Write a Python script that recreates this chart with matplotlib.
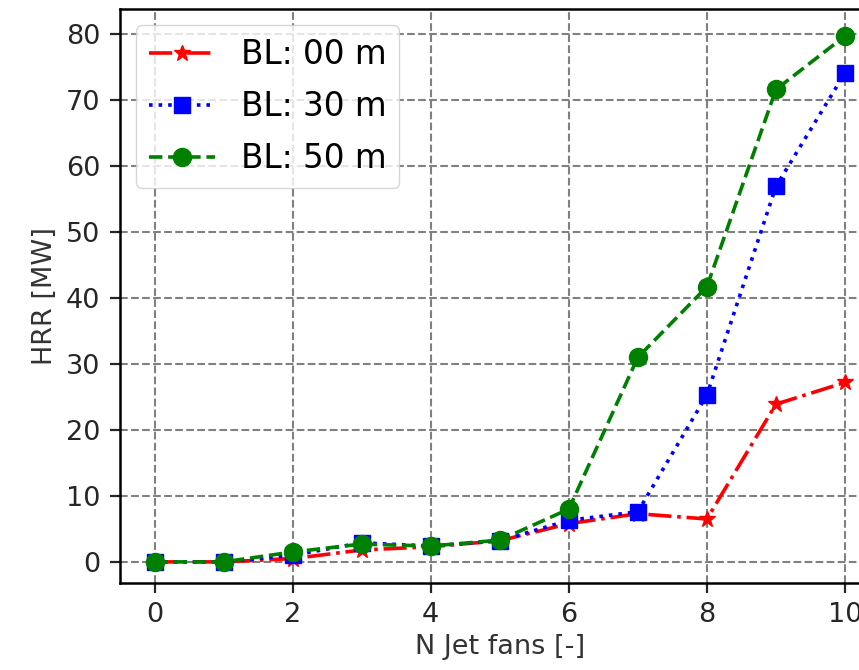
import matplotlib
matplotlib.use('Agg')
import matplotlib.pyplot as plt

n_fans = [0, 1, 2, 3, 4, 5, 6, 7, 8, 9, 10]
hrr_bl00 = [0.0, 0.0, 0.5, 1.8, 2.3, 3.2, 5.8, 7.3, 6.5, 23.9, 27.2]
hrr_bl30 = [0.0, 0.0, 1.0, 2.9, 2.4, 3.2, 6.3, 7.6, 25.3, 56.9, 74.1]
hrr_bl50 = [0.0, 0.0, 1.5, 2.7, 2.4, 3.3, 8.0, 31.0, 41.7, 71.6, 79.7]

fig = plt.figure(figsize=(8.59, 6.70), dpi=100)
# axes runs past the right edge, as in the reference crop
ax = fig.add_axes([120 / 859, 87 / 670, 759.5 / 859, 574 / 670])

ax.plot(n_fans, hrr_bl00, linestyle='-.', linewidth=2.6, color='r', marker='*', markersize=12, label="BL: 00 m")
ax.plot(n_fans, hrr_bl30, linestyle=':', linewidth=2.6, color='b', marker='s', markersize=12, label="BL: 30 m")
ax.plot(n_fans, hrr_bl50, linestyle='--', linewidth=2.6, color='g', marker='o', markersize=13, label="BL: 50 m")

ax.set_xlim(-0.5, 10.5)
ax.set_ylim(-3.2, 83.8)
ax.set_xticks([0, 2, 4, 6, 8, 10])
ax.set_yticks([0, 10, 20, 30, 40, 50, 60, 70, 80])
ax.grid(True, linestyle='--', linewidth=1.5, color='0.5')
ax.tick_params(labelsize=19.5, length=7, width=1.6, pad=7, colors='0.15')
for sp in ax.spines.values():
    sp.set_linewidth(1.8)

ax.set_xlabel("N Jet fans [-]", fontsize=19.5, color='0.2', labelpad=4)
ax.set_ylabel("HRR [MW]", fontsize=19.5, color='0.2', labelpad=6)
ax.legend(loc='upper left', fontsize=23.5, labelspacing=0.58)

fig.savefig("out.png", dpi=100)
